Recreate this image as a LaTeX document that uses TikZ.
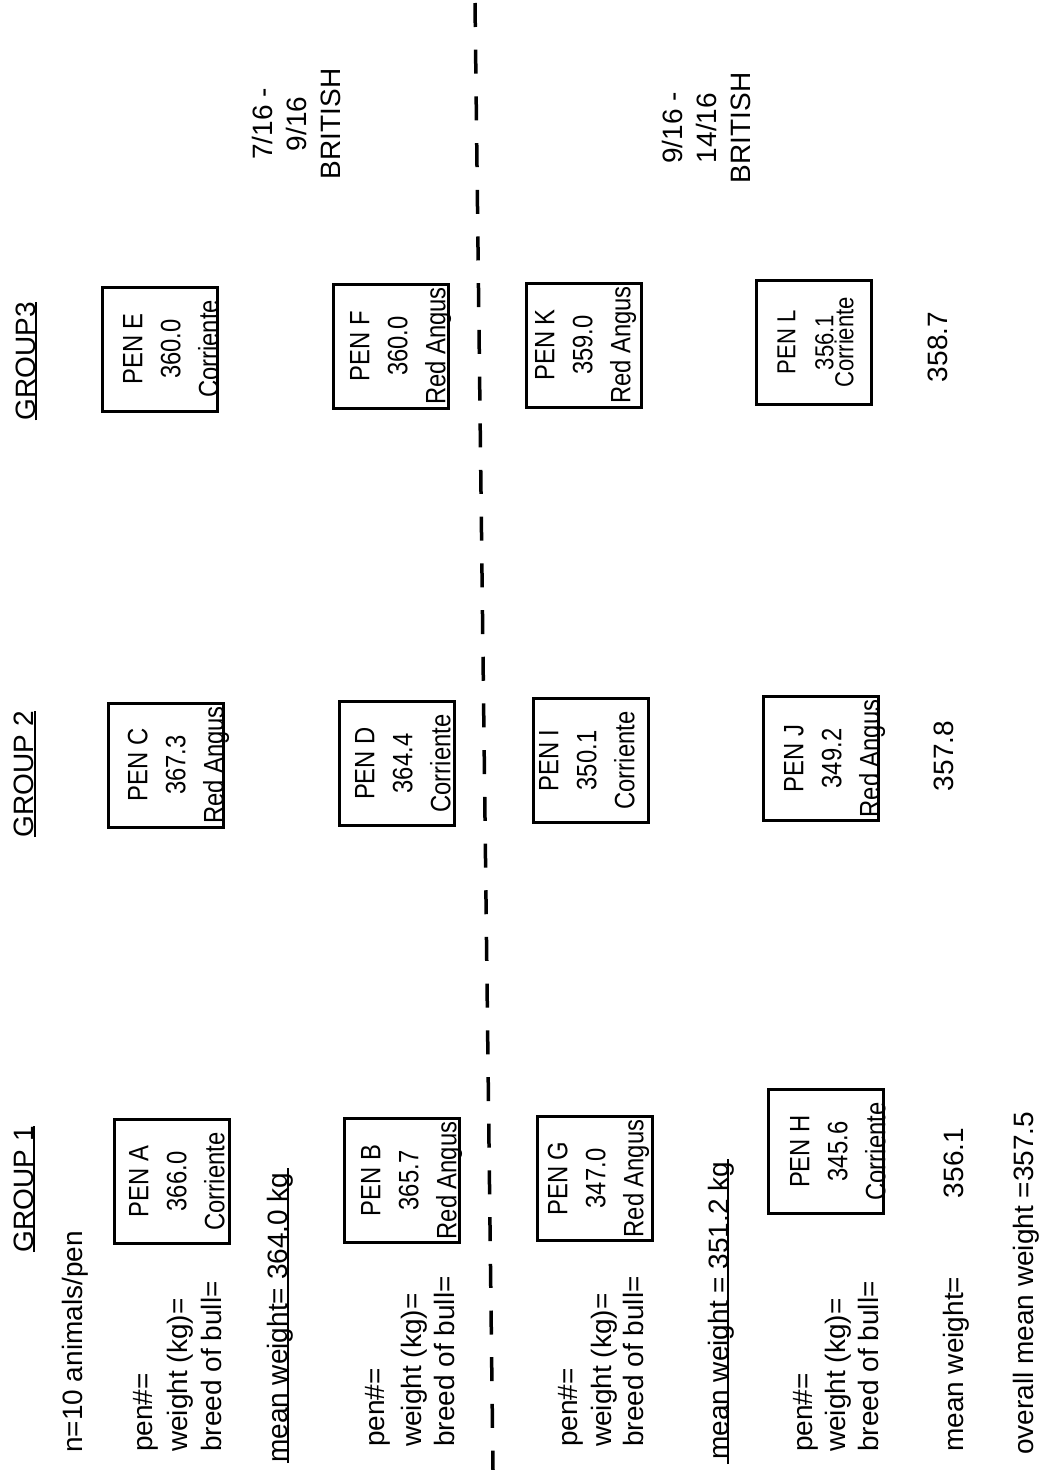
\documentclass[tikz,border=0pt]{standalone}
\usepackage{fontspec}
\setmainfont{Liberation Sans}
\newfontfamily\boxfont[FakeStretch=0.85]{Liberation Sans}
\usetikzlibrary{calc}
\newcommand\pentext[4]{\raisebox{\dimexpr-7pt-#1\relax}[0pt][0pt]{\begin{tabular}{@{}c@{}}#2\\#3\\#4\end{tabular}}}
\tikzset{
  lbl/.style={rotate=90, inner sep=0pt, text depth=0pt, font=\fontsize{28}{34}\selectfont},
  mlbl/.style={rotate=90, inner sep=0pt, align=center, font=\fontsize{28}{34}\selectfont},
  penbox/.style={rotate=90, draw, line width=3pt, minimum width=124pt, minimum height=115pt, inner sep=0pt, font=\boxfont\fontsize{28}{38}\selectfont},
  uline/.style={line width=2.5pt},
  divider/.style={line width=3.5pt, dash pattern=on 24pt off 22.7pt}
}
\begin{document}
\begin{tikzpicture}[x=1pt,y=-1pt]
\useasboundingbox (0,0) rectangle (1043,1470);
\fill[white] (0,0) rectangle (1043,1470);

% group titles
\node[lbl, anchor=base] (g1) at (33,1189) {GROUP 1};
\node[lbl, anchor=base] (g2) at (34,774) {GROUP 2};
\node[lbl, anchor=base] (g3) at (35,361) {GROUP3};
\draw[uline] ($(g1.base west)+(1,0)$) -- ($(g1.base east)+(1,0)$);
\draw[uline] ($(g2.base west)+(1,0)$) -- ($(g2.base east)+(1,0)$);
\draw[uline] ($(g3.base west)+(1,0)$) -- ($(g3.base east)+(1,0)$);

\node[lbl, anchor=base west] (n10) at (82,1453) {n=10 animals/pen};

% block 1
\node[lbl, anchor=base west] (p1) at (152,1452) {pen\#=};
\node[lbl, anchor=base west] (w1) at (187,1452) {weight (kg)=};
\node[lbl, anchor=base west] (b1) at (221,1452) {breed of bull=};
\node[lbl, anchor=base west] (mw1) at (287,1463) {mean weight= 364.0 kg};
\draw[uline] ($(mw1.base west)+(1,0)$) -- ($(mw1.base east)+(1,-4)$);

% block 2
\node[lbl, anchor=base west] (p2) at (384,1447) {pen\#=};
\node[lbl, anchor=base west] (w2) at (421,1447) {weight (kg)=};
\node[lbl, anchor=base west] (b2) at (454,1447) {breed of bull=};

% block 3
\node[lbl, anchor=base west] (p3) at (577,1447) {pen\#=};
\node[lbl, anchor=base west] (w3) at (611,1447) {weight (kg)=};
\node[lbl, anchor=base west] (b3) at (643,1447) {breed of bull=};
\node[lbl, anchor=base west] (mw2) at (728,1460) {mean weight = 351.2 kg};
\draw[uline] ($(mw2.base west)+(0,4)$) -- ($(mw2.base east)+(0,-3)$);

% block 4
\node[lbl, anchor=base west] (p4) at (812,1452) {pen\#=};
\node[lbl, anchor=base west] (w4) at (845,1452) {weight (kg)=};
\node[lbl, anchor=base west] (b4) at (878,1452) {breed of bull=};
\node[lbl, anchor=base west] (mw3) at (963,1452) {mean weight=};
\node[lbl, anchor=base] (m1) at (963,1163) {356.1};
\node[lbl, anchor=base] (m2) at (953,756) {357.8};
\node[lbl, anchor=base] (m3) at (947,347) {358.7};
\node[lbl, anchor=base west] (ov) at (1033,1455) {overall mean weight =357.5};

% pens
\node[penbox] (penA) at (171.5,1181.5) {\pentext{6.5pt}{PEN A}{366.0}{Corriente}};
\node[penbox] (penB) at (401.5,1180.5) {\pentext{8.5pt}{PEN B}{365.7}{Red Angus}};
\node[penbox] (penG) at (595,1178.5) {\pentext{2pt}{PEN G}{347.0}{Red Angus}};
\node[penbox] (penH) at (826,1151.5) {\pentext{13pt}{PEN H}{345.6}{Corriente}};
\node[penbox] (penC) at (166,765) {\pentext{11pt}{PEN C}{367.3}{Red Angus}};
\node[penbox] (penD) at (396.5,763.5) {\pentext{7.5pt}{PEN D}{364.4}{Corriente}};
\node[penbox] (penI) at (591,760.5) {\pentext{-3pt}{PEN I}{350.1}{Corriente}};
\node[penbox] (penJ) at (820.5,758.5) {\pentext{12.5pt}{PEN J}{349.2}{Red Angus}};
\node[penbox] (penE) at (160,349) {\pentext{12pt}{PEN E}{360.0}{Corriente}};
\node[penbox] (penF) at (391,346) {\pentext{8pt}{PEN F}{360.0}{Red Angus}};
\node[penbox] (penK) at (584,345) {\pentext{0pt}{PEN K}{359.0}{Red Angus}};
\node[penbox] (penL) at (813.5,342.5) {\fontsize{26}{38}\selectfont\raisebox{\dimexpr-6.5pt-3pt\relax}[0pt][0pt]{\begin{tabular}{@{}c@{}}PEN L\\356.1\\[-18pt]Corriente\end{tabular}}};

% right labels
\node[mlbl] (t1) at (296,124) {7/16 -\\9/16\\BRITISH};
\node[mlbl] (t2) at (706,128) {9/16 -\\14/16\\BRITISH};

% divider
\coordinate (dtop) at (475,3);
\coordinate (dbot) at (493,1470);
\draw[divider] (dtop) -- (dbot);
\end{tikzpicture}
\end{document}
